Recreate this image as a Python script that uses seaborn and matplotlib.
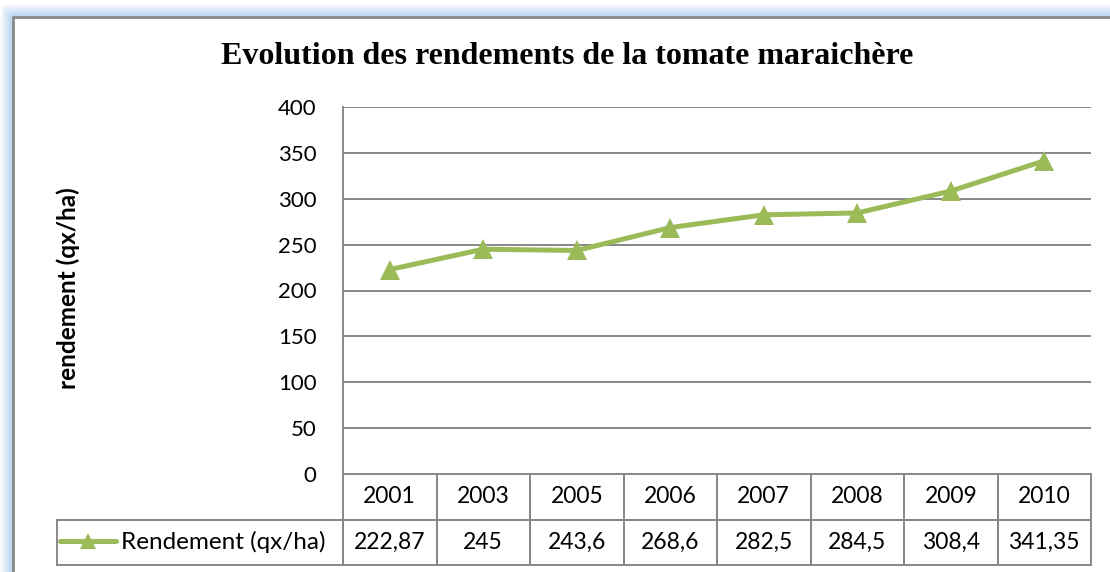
import matplotlib
matplotlib.use("Agg")
import matplotlib.pyplot as plt
from matplotlib.patches import Rectangle
import numpy as np
import pandas as pd
import seaborn as sns

years = ["2001", "2003", "2005", "2006", "2007", "2008", "2009", "2010"]
rendement = [222.87, 245, 243.6, 268.6, 282.5, 284.5, 308.4, 341.35]
rendement_labels = ["222,87", "245", "243,6", "268,6", "282,5", "284,5", "308,4", "341,35"]
series_name = "Rendement (qx/ha)"
y_ticks = [0, 50, 100, 150, 200, 250, 300, 350, 400]

GREEN = "#9BBB59"
GRID = "#888888"

sns.set_style("white")
plt.rcParams["font.family"] = ["Lato", "DejaVu Sans"]
plt.rcParams.update({"text.color": "black", "axes.labelcolor": "black",
                     "xtick.color": "black", "ytick.color": "black"})

W, H = 1110, 572
fig = plt.figure(figsize=(W / 100, H / 100), dpi=100)
fig.patch.set_facecolor("white")


def px(x, y):
    return x / W, 1 - y / H


# chart frame with soft blue glow
for k in range(13):
    a = 0.6 * (1 - k / 13)
    fig.patches.append(Rectangle(px(13 - k, 700), 2000 / W, (700 - 17 + k) / H,
                                 transform=fig.transFigure, fill=False,
                                 edgecolor="#96bff0", alpha=a, lw=1.0, zorder=0))
fig.patches.append(Rectangle(px(13, 700), 2000 / W, (700 - 17) / H,
                             transform=fig.transFigure, fill=False,
                             edgecolor="#8a8a8a", lw=2.0, zorder=1))

left, bottom = px(343, 474)
ax = fig.add_axes([left, bottom, (1091 - 343) / W, (474 - 107) / H])
ax.set_facecolor("none")

df = pd.DataFrame({"pos": np.arange(len(years)), "rendement": rendement})
sns.lineplot(data=df, x="pos", y="rendement", ax=ax, color=GREEN, linewidth=3.6,
             marker="^", markersize=14, markeredgewidth=0, label=series_name)

ax.set_xlim(-0.5, len(years) - 0.5)
ax.set_ylim(0, 400)
ax.set_yticks(y_ticks)
ax.set_xticks([])
ax.set_xlabel("")
ax.set_ylabel("")
ax.yaxis.grid(True, color=GRID, lw=1.4)
ax.set_axisbelow(True)
ax.tick_params(axis="y", length=0, pad=19, labelsize=16)
for s in ["top", "right", "bottom"]:
    ax.spines[s].set_visible(False)
ax.spines["left"].set_color(GRID)
ax.spines["left"].set_linewidth(1.4)

# data table below the plot
ax_h = 474 - 107
ax_w = 1091 - 343
tbl = ax.table(cellText=[[""] + rendement_labels],
               colLabels=[""] + years,
               colWidths=[286] + [ax_w / len(years)] * len(years),
               cellLoc="center", colLoc="center",
               bbox=[-286 / ax_w, -(565 - 474) / ax_h, (286 + ax_w) / ax_w, (565 - 474) / ax_h])
tbl.auto_set_font_size(False)
tbl.set_fontsize(16.5)
for (r, c), cell in tbl.get_celld().items():
    cell.set_edgecolor(GRID)
    cell.set_linewidth(1.4)
    cell.set_facecolor("none")
tbl[0, 0].visible_edges = "B"

ax.legend(loc="center left", bbox_to_anchor=((60 - 343) / ax_w, -(542 - 474) / ax_h),
          frameon=False, fontsize=17.5, handlelength=2.3, handletextpad=0.2,
          borderpad=0, borderaxespad=0, markerscale=0.85)

fig.text(*px(567, 57), "Evolution des rendements de la tomate maraichère",
         family="Liberation Serif", fontweight="bold", fontsize=23,
         ha="center", va="center")
fig.text(*px(68, 288), "rendement (qx/ha)", fontweight="bold", fontsize=17.5,
         rotation=90, ha="center", va="center")

fig.savefig("out.png", dpi=100)
